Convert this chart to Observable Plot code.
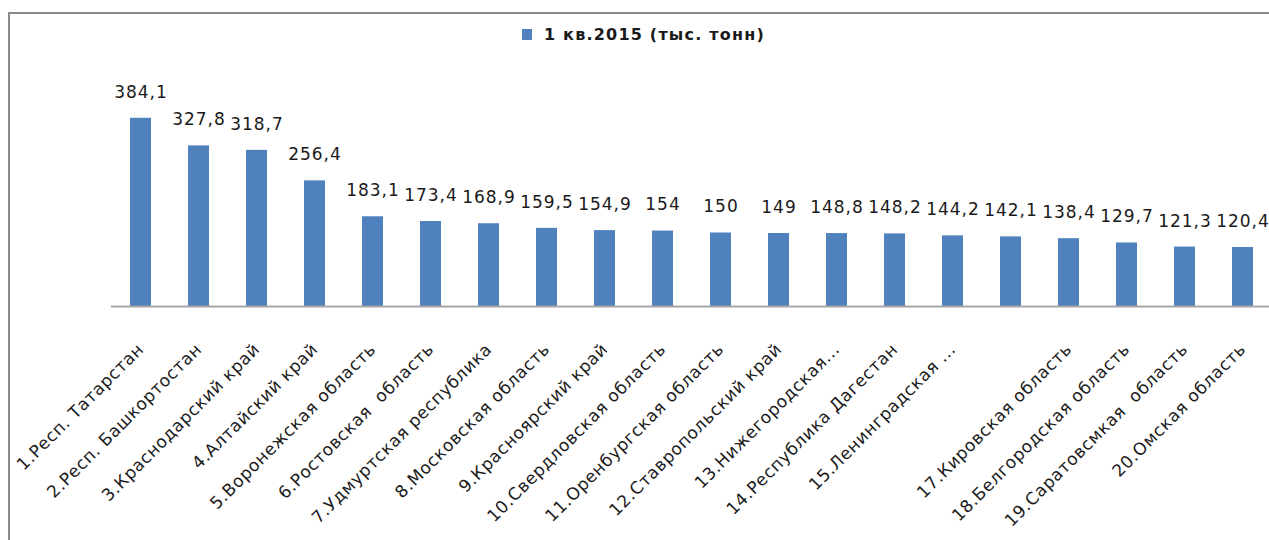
<!DOCTYPE html>
<html>
<head>
<meta charset="utf-8">
<script src="https://cdn.jsdelivr.net/npm/d3@7"></script>
<script src="https://cdn.jsdelivr.net/npm/@observablehq/plot@0.6"></script>
<style>
  html, body { margin: 0; padding: 0; background: #fff; }
  #wrap { position: relative; width: 1269px; height: 540px; overflow: hidden; font-family: "DejaVu Sans", sans-serif; }
  #frame { position: absolute; left: 8px; top: 12px; width: 1300px; height: 600px; border-top: 2px solid #8a8a8a; border-left: 2px solid #8a8a8a; }
  #legend { position: absolute; top: 25px; left: 522px; white-space: nowrap; font-size: 16px; font-weight: bold; letter-spacing: 1.2px; color: #1a1a1a; }
  #legend .sw { display: inline-block; width: 10px; height: 11px; background: #4F81BD; margin-right: 12px; vertical-align: 0px; }
  #chart { position: absolute; left: 0; top: 0; }
  #chart svg text.val { letter-spacing: 1px; }
  #chart svg g[aria-label="x-axis tick label"] text { letter-spacing: 0.6px; }
</style>
</head>
<body>
<div id="wrap">
  <div id="frame"></div>
  <div id="chart"></div>
  <div id="legend"><span class="sw"></span>1 кв.2015 (тыс. тонн)</div>
</div>
<script>
const seriesName = "1 кв.2015 (тыс. тонн)";
const regions = [
  "1.Респ. Татарстан",
  "2.Респ. Башкортостан",
  "3.Краснодарский край",
  "4.Алтайский край",
  "5.Воронежская область",
  "6.Ростовская  область",
  "7.Удмуртская республика",
  "8.Московская область",
  "9.Красноярский край",
  "10.Свердловская область",
  "11.Оренбургская область",
  "12.Ставропольский край",
  "13.Нижегородская...",
  "14.Республика Дагестан",
  "15.Ленинградская ...",
  "",
  "17.Кировская область",
  "18.Белгородская область",
  "19.Саратовсмкая  область",
  "20.Омская область"
];
const values = [384.1, 327.8, 318.7, 256.4, 183.1, 173.4, 168.9, 159.5, 154.9, 154, 150, 149, 148.8, 148.2, 144.2, 142.1, 138.4, 129.7, 121.3, 120.4];

const data = values.map((v, i) => ({i, name: regions[i], value: v}));
const fmt = v => String(v).replace(".", ",");

const chart = Plot.plot({
  width: 1269,
  height: 540,
  marginTop: 110,
  marginBottom: 234,
  marginLeft: 111,
  marginRight: -2,
  style: {background: "transparent", fontFamily: "DejaVu Sans, sans-serif", color: "#1a1a1a"},
  x: {type: "band", domain: d3.range(values.length), paddingInner: 0.64, paddingOuter: 0.32, axis: null},
  y: {domain: [0, 400], axis: null},
  marks: [
    Plot.barY(data, {x: "i", y: "value", fill: "#4F81BD"}),
    Plot.ruleY([0], {stroke: "#a6a6a6", strokeWidth: 2}),
    Plot.text(data, {x: "i", y: "value", text: d => fmt(d.value), dy: -26, fontSize: 17, fill: "#1a1a1a", lineAnchor: "middle"}),
    Plot.axisX({
      tickRotate: -45,
      tickSize: 0,
      tickPadding: 40,
      fontSize: 17,
      label: null,
      tickFormat: i => regions[i],
      stroke: null,
      fill: "#1a1a1a"
    })
  ]
});
chart.querySelectorAll("g").forEach(g => {
  if (g.getAttribute("aria-label") === "text") g.querySelectorAll("text").forEach(t => t.classList.add("val"));
});
document.getElementById("chart").appendChild(chart);
</script>
</body>
</html>
